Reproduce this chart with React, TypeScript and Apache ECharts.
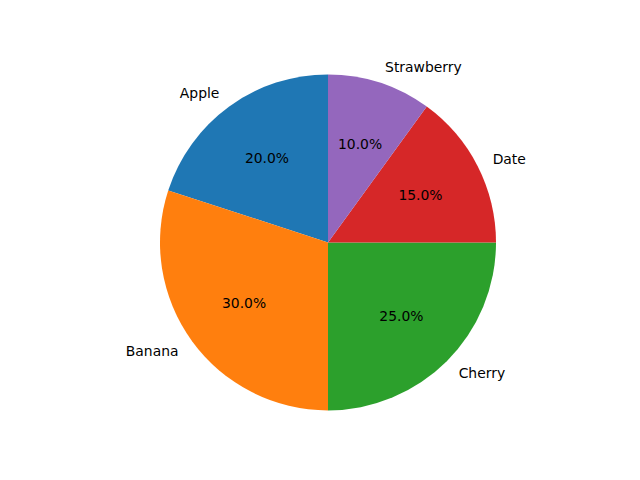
import React, { useEffect, useRef } from "react";
import * as echarts from "echarts";

const categories = ["Apple", "Banana", "Cherry", "Date", "Strawberry"];
const values = [20, 30, 25, 15, 10];
const colors = ["#1f77b4", "#ff7f0e", "#2ca02c", "#d62728", "#9467bd"];

const R = 168;
const CX = 328;
const CY = 242.4;
const FONT = "DejaVu Sans";
const FS = 13.9;

export default function App() {
  const ref = useRef<HTMLDivElement>(null);
  useEffect(() => {
    if (!ref.current) return;
    const chart = echarts.init(ref.current, undefined, { renderer: "svg" });
    const data = categories.map((name, i) => ({
      name,
      value: values[i],
      itemStyle: { color: colors[i] },
    }));
    chart.setOption({
      animation: false,
      backgroundColor: "#ffffff",
      series: [
        {
          type: "pie",
          center: [CX, CY],
          radius: [0, R],
          startAngle: 90,
          clockwise: false,
          avoidLabelOverlap: false,
          silent: true,
          data,
          itemStyle: { borderWidth: 0 },
          label: {
            show: true,
            position: "outside",
            formatter: "{b}",
            color: "#000",
            fontFamily: FONT,
            fontSize: FS,
            distanceToLabelLine: 0,
          },
          labelLine: { show: false, length: R * 0.1, length2: 0 },
        },
        {
          type: "pie",
          center: [CX, CY],
          radius: [0, R * 1.2],
          startAngle: 90,
          clockwise: false,
          avoidLabelOverlap: false,
          silent: true,
          z: 3,
          data: categories.map((name, i) => ({ name, value: values[i] })),
          itemStyle: { color: "rgba(0,0,0,0)", borderWidth: 0 },
          label: {
            show: true,
            position: "inside",
            formatter: (p: any) => p.percent.toFixed(1) + "%",
            color: "#000",
            fontFamily: FONT,
            fontSize: FS,
          },
          labelLine: { show: false },
        },
      ],
    });
    return () => chart.dispose();
  }, []);
  return (
    <div
      ref={ref}
      style={{ position: "fixed", left: 0, top: 0, width: 640, height: 480 }}
    />
  );
}
